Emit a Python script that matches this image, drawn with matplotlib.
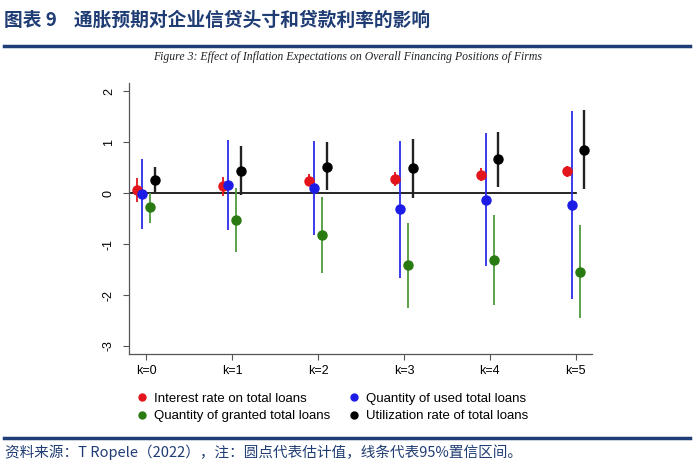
import matplotlib
matplotlib.use("Agg")
import matplotlib.pyplot as plt
from matplotlib.lines import Line2D
import numpy as np

# horizons
labels = ["k=0", "k=1", "k=2", "k=3", "k=4", "k=5"]

# point estimates and 95% bands
rate_est = [0.06, 0.13, 0.23, 0.27, 0.36, 0.44]
rate_lo = [-0.17, -0.05, 0.16, 0.13, 0.23, 0.31]
rate_hi = [0.30, 0.31, 0.38, 0.42, 0.49, 0.53]

used_est = [-0.02, 0.16, 0.10, -0.32, -0.13, -0.24]
used_lo = [-0.71, -0.72, -0.83, -1.67, -1.44, -2.08]
used_hi = [0.67, 1.04, 1.02, 1.03, 1.17, 1.60]

granted_est = [-0.28, -0.53, -0.83, -1.42, -1.32, -1.54]
granted_lo = [-0.59, -1.16, -1.57, -2.25, -2.19, -2.46]
granted_hi = [0.00, 0.10, -0.08, -0.59, -0.44, -0.62]

util_est = [0.26, 0.44, 0.52, 0.49, 0.66, 0.85]
util_lo = [0.00, -0.04, 0.05, -0.09, 0.12, 0.07]
util_hi = [0.52, 0.93, 1.01, 1.06, 1.20, 1.63]

navy = "#1f3c74"
sans = ["Liberation Sans", "DejaVu Sans"]
cjk = ["Noto Sans CJK SC", "DejaVu Sans"]

fig = plt.figure(figsize=(7, 4.71), dpi=100)
ax = fig.add_axes([0.184, 0.248, 0.662, 0.576])

x = np.arange(len(labels))
series = [
    ("Interest rate on total loans", rate_est, rate_lo, rate_hi, -0.10, "#e4141c", "#e4141c", 1.3),
    ("Quantity of used total loans", used_est, used_lo, used_hi, -0.05, "#1c1ce6", "#2b2bea", 1.3),
    ("Quantity of granted total loans", granted_est, granted_lo, granted_hi, 0.045, "#2a7a12", "#4f9a3c", 1.3),
    ("Utilization rate of total loans", util_est, util_lo, util_hi, 0.10, "#000000", "#222222", 1.7),
]

ax.plot([-0.2, 5.0], [0, 0], color="black", lw=1.2, zorder=1)

handles = []
for name, est, lo, hi, off, mc, lc, lw in series:
    xs = x + off
    ax.vlines(xs, lo, hi, color=lc, lw=lw, zorder=2)
    ax.plot(xs, est, "o", color=mc, ms=6.5, zorder=3)
    handles.append(Line2D([], [], ls="", marker="o", color=mc, ms=5, label=name))

ax.set_xlim(-0.2, 5.19)
ax.set_ylim(-3.16, 2.16)
ax.set_xticks(x)
ax.set_xticklabels(labels, fontsize=9, family=sans)
ax.set_yticks([-3, -2, -1, 0, 1, 2])
ax.set_yticklabels(["-3", "-2", "-1", "0", "1", "2"], fontsize=9, family=sans,
                   rotation=90, va="center")
ax.tick_params(axis="both", direction="out", length=4, color="#555555", width=0.8)
ax.tick_params(axis="x", pad=4)
ax.tick_params(axis="y", pad=6)
for s in ["top", "right"]:
    ax.spines[s].set_visible(False)
for s in ["left", "bottom"]:
    ax.spines[s].set_color("#555555")
    ax.spines[s].set_linewidth(0.9)

# legend: row 1 red/blue, row 2 green/black
leg = fig.legend(handles=[handles[0], handles[2], handles[1], handles[3]],
                 loc="upper left", bbox_to_anchor=(0.19, 0.178), ncol=2,
                 frameon=False, prop={"family": sans, "size": 9.5},
                 handlelength=0.6, handletextpad=0.6, columnspacing=1.5,
                 labelspacing=0.4, borderaxespad=0)

# header and footer
fig.text(0.006, 0.957, "图表 9    通胀预期对企业信贷头寸和贷款利率的影响",
         fontsize=13.5, fontweight="bold", color=navy, family=cjk, va="center")
fig.add_artist(Line2D([0.005, 0.986], [0.903, 0.903], color=navy, lw=2.5))
fig.text(0.497, 0.879, "Figure 3: Effect of Inflation Expectations on Overall Financing Positions of Firms",
         fontsize=8.5, style="italic", family=["Liberation Serif", "DejaVu Serif"],
         ha="center", va="center", color="#222222")
fig.add_artist(Line2D([0.005, 0.986], [0.070, 0.070], color=navy, lw=2.5))
fig.text(0.007, 0.040, "资料来源：T Ropele（2022），注：圆点代表估计值，线条代表95%置信区间。",
         fontsize=10.5, color=navy, family=cjk, va="center", style="italic")

fig.savefig("out.png", dpi=100)
